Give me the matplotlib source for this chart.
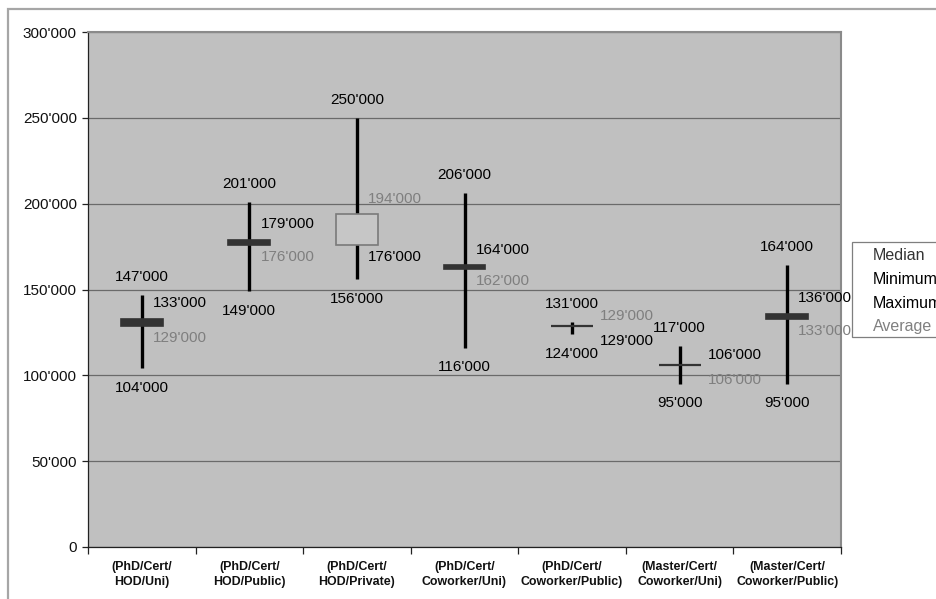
import matplotlib
matplotlib.use("Agg")
import matplotlib.pyplot as plt
from matplotlib.patches import Rectangle
from matplotlib.ticker import FuncFormatter, MultipleLocator, FixedLocator

plt.rcParams['font.family'] = ['Liberation Sans', 'DejaVu Sans']

categories = ["(PhD/Cert/\nHOD/Uni)", "(PhD/Cert/\nHOD/Public)", "(PhD/Cert/\nHOD/Private)",
              "(PhD/Cert/\nCoworker/Uni)", "(PhD/Cert/\nCoworker/Public)",
              "(Master/Cert/\nCoworker/Uni)", "(Master/Cert/\nCoworker/Public)"]
maximum = [147000, 201000, 250000, 206000, 131000, 117000, 164000]
minimum = [104000, 149000, 156000, 116000, 124000, 95000, 95000]
median = [133000, 179000, 176000, 164000, 129000, 106000, 136000]
average = [129000, 176000, 194000, 162000, 129000, 106000, 133000]
legend_labels = ["Median", "Minimum", "Maximum", "Average"]
# which of the two middle labels is drawn on top (styling only)
median_on_top = [True, True, False, True, False, True, True]

W, H = 937, 599
fig = plt.figure(figsize=(W / 100, H / 100), dpi=100)
fig.patch.set_facecolor('white')

# outer chart frame (cut by the image edges)
fig.patches.append(Rectangle((8 / W, -0.1), 1.2, (599 - 9) / H + 0.1, transform=fig.transFigure,
                             fill=False, edgecolor='#a6a6a6', linewidth=1.6, zorder=0))

ax = fig.add_axes([88 / W, (H - 547) / H, (841 - 88) / W, (547 - 32) / H])
ax.set_facecolor('#c0c0c0')
ax.set_xlim(-0.5, len(categories) - 0.5)
ax.set_ylim(0, 300000)

ax.yaxis.set_major_locator(MultipleLocator(50000))
ax.yaxis.set_major_formatter(FuncFormatter(lambda v, p: "0" if v == 0 else f"{int(v):,}".replace(",", "'")))
ax.grid(axis='y', color='#6a6a6a', linewidth=0.9)
ax.set_axisbelow(True)

for s in ['top', 'right']:
    ax.spines[s].set_color('#8a8a8a')
    ax.spines[s].set_linewidth(1.5)
for s in ['left', 'bottom']:
    ax.spines[s].set_color('#222222')
    ax.spines[s].set_linewidth(0.9)

ax.tick_params(axis='y', direction='out', length=4, width=0.9, color='#222222',
               labelsize=11, pad=4, labelcolor='#111111')
ax.set_xticks(range(len(categories)))
ax.set_xticklabels(categories, fontsize=8.9, fontweight='bold', color='#111111', linespacing=1.35)
ax.tick_params(axis='x', which='major', length=0, pad=10)
ax.xaxis.set_minor_locator(FixedLocator([i - 0.5 for i in range(len(categories) + 1)]))
ax.tick_params(axis='x', which='minor', direction='out', length=5, width=0.9, color='#222222')

x = list(range(len(categories)))
# high-low lines
ax.vlines(x, minimum, maximum, colors='#000000', linewidth=2.4, zorder=3)

# median / average boxes
for i in x:
    lo = min(median[i], average[i])
    hi = max(median[i], average[i])
    up = average[i] > median[i]
    if up:
        fc, ec = '#c6c6c6', '#7a7a7a'
    else:
        fc, ec = '#333333', '#333333'
    lw = 1.6 if hi == lo else 1.2
    ax.bar(i, hi - lo, bottom=lo, width=0.39, color=fc, edgecolor=ec, linewidth=lw, zorder=4)

def fmt(v):
    return f"{int(v):,}".replace(",", "'")

lab_fs = 11
for i in x:
    ax.annotate(fmt(maximum[i]), (i, maximum[i]), xytext=(0, 13), textcoords='offset points',
                ha='center', va='center', fontsize=lab_fs, color='#000000')
    ax.annotate(fmt(minimum[i]), (i, minimum[i]), xytext=(0, -14), textcoords='offset points',
                ha='center', va='center', fontsize=lab_fs, color='#000000')
    tie = median[i] == average[i]
    dx = 20 if tie else 8
    if median_on_top[i]:
        top_v, top_c = median[i], '#000000'
        bot_v, bot_c = average[i], '#7f7f7f'
    else:
        top_v, top_c = average[i], '#7f7f7f'
        bot_v, bot_c = median[i], '#000000'
    up_off = 7 if tie else 11
    dn_off = -11 if tie else -9
    ax.annotate(fmt(top_v), (i + 0.0, top_v), xytext=(dx, up_off), textcoords='offset points',
                ha='left', va='center', fontsize=lab_fs, color=top_c)
    ax.annotate(fmt(bot_v), (i + 0.0, bot_v), xytext=(dx, dn_off), textcoords='offset points',
                ha='left', va='center', fontsize=lab_fs, color=bot_c)

# legend
fig.patches.append(Rectangle((852 / W, 1 - 337 / H), 0.2, (337 - 242) / H, transform=fig.transFigure,
                             facecolor='white', edgecolor='#7f7f7f', linewidth=0.9, zorder=5))
leg_colors = ['#333333', '#000000', '#000000', '#808080']
leg_y = [255, 279, 303, 327]
for lab, c, yy in zip(legend_labels, leg_colors, leg_y):
    fig.text(873 / W, 1 - yy / H, lab, fontsize=11.5, color=c, ha='left', va='center', zorder=6)

fig.savefig('out.png', dpi=100)
